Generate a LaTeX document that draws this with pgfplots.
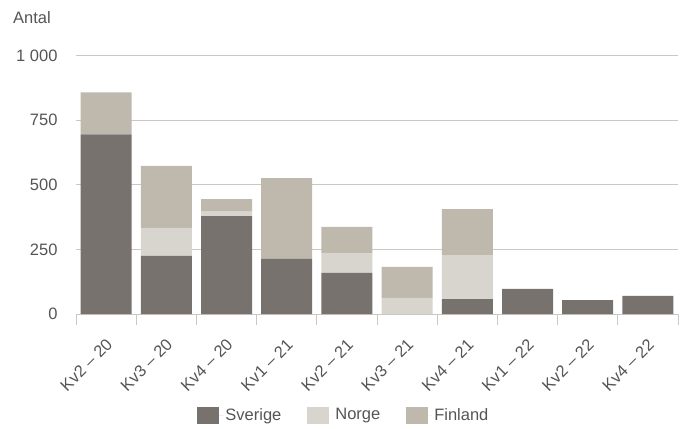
\documentclass[border=0pt]{standalone}
\usepackage{fontspec}
\setmainfont{Liberation Sans}
\usepackage{pgfplots}
\usepackage{pgfplotstable}
\pgfplotsset{compat=1.18}

\definecolor{sverige}{HTML}{78726E}
\definecolor{norge}{HTML}{D8D4CE}
\definecolor{finland}{HTML}{BFB8AD}
\definecolor{gridc}{HTML}{CCC7C1}
\definecolor{txt}{HTML}{555555}

% Antal per kvartal och land
\pgfplotstableread{
x sverige norge finland
0 695 0   163
1 225 108 240
2 379 17  49
3 213 0   313
4 159 77  101
5 0   62  120
6 58  170 178
7 97  0   0
8 54  0   0
9 70  0   0
}\data

\newcommand{\lblfont}{\fontsize{16.5bp}{19bp}\selectfont}

\begin{document}
\begin{tikzpicture}[x=1bp,y=1bp]
\path[use as bounding box] (0,0) rectangle (687,428);
\node[anchor=west, inner sep=0pt, text=txt, font=\lblfont] at (13,410) {Antal};
\begin{axis}[
  at={(76bp,114bp)}, anchor=south west,
  scale only axis, width=602bp, height=258.3bp,
  ybar stacked, bar width=51bp,
  xmin=-0.5, xmax=9.5, ymin=0, ymax=1000,
  axis x line*=bottom, axis y line*=left,
  y axis line style={draw=none},
  x axis line style={gridc, line width=1bp},
  ytick={0,250,500,750,1000},
  yticklabels={0,250,500,750,1 000},
  ytick style={draw=none},
  ymajorgrids, grid style={gridc, line width=1bp},
  xtick={0,...,9},
  xticklabels={Kv2 – 20, Kv3 – 20, Kv4 – 20, Kv1 – 21, Kv2 – 21, Kv3 – 21, Kv4 – 21, Kv1 – 22, Kv2 – 22, Kv4 – 22},
  major x tick style={draw=none},
  extra x ticks={-0.5,0.5,...,9.5},
  extra x tick labels={},
  extra x tick style={tick align=outside, major tick length=11bp,
    major x tick style={draw=gridc, line width=1bp}},
  ticklabel style={text=txt, font=\lblfont},
  yticklabel style={anchor=east, xshift=-15bp},
  xticklabel style={rotate=45, anchor=east, xshift=-14bp, yshift=-22bp},
  % square swatch followed by a little blank space before the text
  legend image code/.code={
    \path (0bp,0bp) -- (26bp,0bp);
    \fill[#1] (0bp,-8.5bp) rectangle (22bp,8.5bp);},
  legend style={at={(0.445,-0.391)}, anchor=center, draw=none, fill=none,
    legend columns=3, text=txt, font=\lblfont,
    /tikz/every even column/.append style={column sep=24bp}},
]
\addplot[fill=sverige, draw=none] table[x=x, y=sverige] {\data};
\addplot[fill=norge, draw=none] table[x=x, y=norge] {\data};
\addplot[fill=finland, draw=none] table[x=x, y=finland] {\data};
\legend{Sverige, Norge, Finland}
\end{axis}
\end{tikzpicture}
\end{document}
